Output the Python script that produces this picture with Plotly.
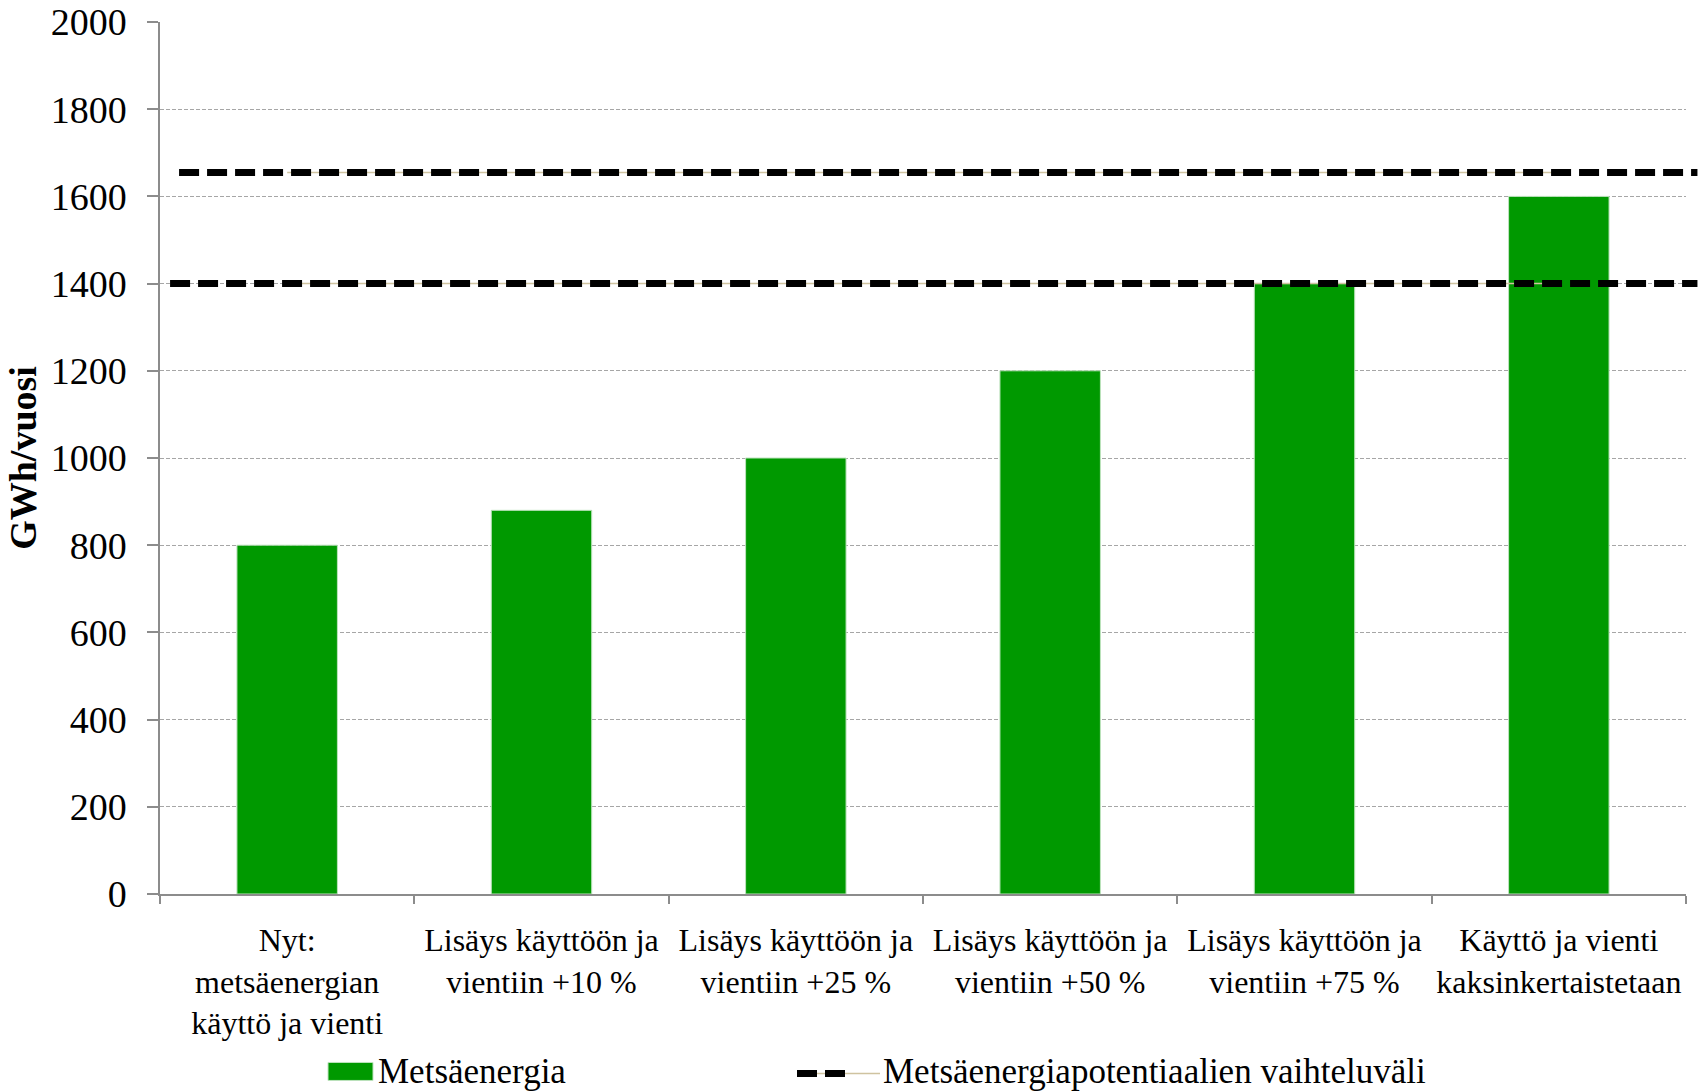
import plotly.graph_objects as go

# Scenario categories (x axis)
categories = [
    "Nyt:<br>metsäenergian<br>käyttö ja vienti",
    "Lisäys käyttöön ja<br>vientiin +10 %",
    "Lisäys käyttöön ja<br>vientiin +25 %",
    "Lisäys käyttöön ja<br>vientiin +50 %",
    "Lisäys käyttöön ja<br>vientiin +75 %",
    "Käyttö ja vienti<br>kaksinkertaistetaan",
]

# Forest energy use and export, GWh per year
metsaenergia = [800, 880, 1000, 1200, 1400, 1600]

# Range of forest energy potential (lower and upper bound), GWh per year
potentiaali_rajat = [1400, 1655]

y_ticks = [0, 200, 400, 600, 800, 1000, 1200, 1400, 1600, 1800, 2000]

legend_labels = ["Metsäenergia", "Metsäenergiapotentiaalien vaihteluväli"]

GREEN = "#009900"
GRID = "#a6a6a6"
AXIS = "#8c8c8c"
TAN = "#cfc3a0"
FONT = "Liberation Serif"

fig = go.Figure()

fig.add_trace(go.Bar(
    x=categories,
    y=metsaenergia,
    marker=dict(color=GREEN, line=dict(color="#bfe3bf", width=1)),
    width=0.395,
    showlegend=False,
))

# Thin connector series for the potential bounds, across the category centres
for val in potentiaali_rajat:
    fig.add_trace(go.Scatter(
        x=categories,
        y=[val] * len(categories),
        mode="lines",
        line=dict(color=TAN, width=1.5),
        showlegend=False,
        hoverinfo="skip",
    ))

# Thick dashed bound lines spanning the plot width
bound_starts = {1400: 0.0066, 1655: 0.0125}
for val in potentiaali_rajat:
    fig.add_shape(
        type="line", xref="paper", yref="y",
        x0=bound_starts.get(val, 0.01), x1=1.0075, y0=val, y1=val,
        line=dict(color="black", width=7, dash="20px,8px"),
        layer="above",
    )

# Legend drawn by hand: green swatch and dashed swatch with their labels
fig.add_shape(type="rect", xref="paper", yref="paper",
              x0=(328 - 160) / 1526, x1=(373 - 160) / 1526,
              y0=-(1081 - 894.4) / 872.7, y1=-(1063 - 894.4) / 872.7,
              fillcolor=GREEN, line=dict(color="#bfe3bf", width=1))
fig.add_annotation(xref="paper", yref="paper",
                   x=(376 - 160) / 1526, y=-(1072 - 894.4) / 872.7,
                   text=legend_labels[0], showarrow=False,
                   xanchor="left", yanchor="middle",
                   font=dict(family=FONT, size=35, color="black"))

leg_y = -(1074 - 894.4) / 872.7
fig.add_shape(type="line", xref="paper", yref="paper",
              x0=(797 - 160) / 1526, x1=(880 - 160) / 1526, y0=leg_y, y1=leg_y,
              line=dict(color=TAN, width=1.5))
fig.add_shape(type="line", xref="paper", yref="paper",
              x0=(797 - 160) / 1526, x1=(846 - 160) / 1526, y0=leg_y, y1=leg_y,
              line=dict(color="black", width=7, dash="20px,8px"))
fig.add_annotation(xref="paper", yref="paper",
                   x=(881 - 160) / 1526, y=-(1072 - 894.4) / 872.7,
                   text=legend_labels[1], showarrow=False,
                   xanchor="left", yanchor="middle",
                   font=dict(family=FONT, size=35, color="black"))

fig.update_layout(
    width=1704,
    height=1092,
    margin=dict(l=160, r=18, t=22, b=197.6, autoexpand=False),
    paper_bgcolor="white",
    plot_bgcolor="white",
    font=dict(family=FONT, color="black"),
    bargap=0.605,
    showlegend=False,
)

fig.update_xaxes(
    type="category",
    showline=True, linecolor=AXIS, linewidth=1.5,
    ticks="outside", tickson="boundaries", ticklen=8, tickcolor=AXIS, tickwidth=1.5,
    tickfont=dict(family=FONT, size=32, color="black"),
    tickangle=0,
    showgrid=False,
    ticklabelstandoff=17,
)

fig.update_yaxes(
    range=[0, 2000],
    tickvals=y_ticks,
    ticktext=[str(v) for v in y_ticks],
    showline=True, linecolor=AXIS, linewidth=1.5,
    ticks="outside", ticklen=11, tickcolor=AXIS, tickwidth=1.5,
    tickfont=dict(family=FONT, size=38, color="black"),
    ticklabelstandoff=13,
    showgrid=True, gridcolor=GRID, gridwidth=1.2, griddash="4px,2px",
    zeroline=False,
    title=dict(text="<b>GWh/vuosi</b>", standoff=2,
               font=dict(family=FONT, size=38, color="black")),
)

fig.write_html("out.html")
